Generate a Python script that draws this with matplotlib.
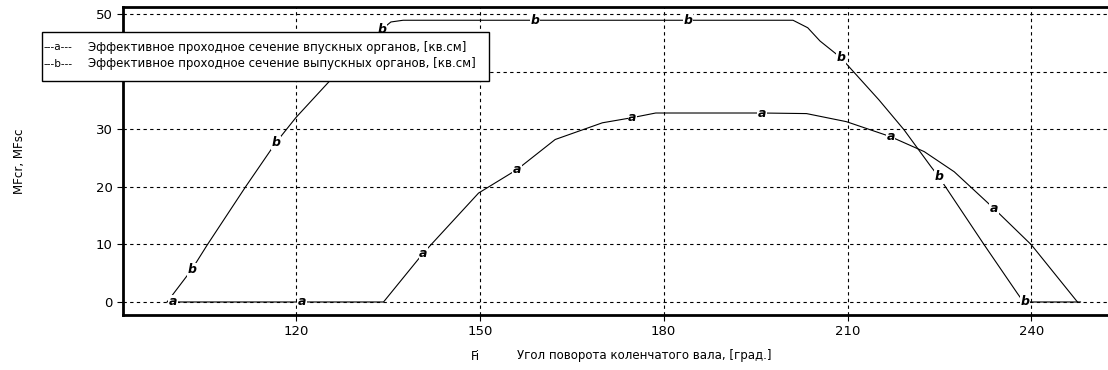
import matplotlib
matplotlib.use("Agg")
import matplotlib.pyplot as plt
from matplotlib.patches import Rectangle

# Curve a: intake effective flow area
a_x = [100.0, 121.0, 134.3, 140.8, 149.8, 156.1, 162.3, 170.0, 174.9, 178.7, 196.0, 203.3,
       209.8, 217.0, 222.5, 227.4, 233.9, 240.0, 247.5]
a_y = [0.0, 0.0, 0.0, 8.5, 18.9, 23.0, 28.2, 31.1, 32.0, 32.8, 32.8, 32.7,
       31.3, 28.7, 26.1, 22.6, 16.2, 9.9, 0.0]
# Curve b: exhaust effective flow area
b_x = [99.0, 103.0, 105.6, 111.8, 116.7, 120.0, 125.2, 130.0, 134.0, 135.5, 137.5, 159.0,
       184.0, 201.1, 203.5, 205.5, 208.9, 215.1, 219.2, 223.6, 224.9, 232.3, 237.7, 238.7, 248.0]
b_y = [0.0, 5.6, 10.0, 20.0, 27.6, 32.0, 38.0, 43.5, 47.3, 48.6, 48.9, 48.9,
       48.9, 48.9, 47.6, 45.3, 42.4, 35.1, 29.9, 23.5, 21.7, 9.9, 1.5, 0.0, 0.0]

# marker letters positions
a_mx = [100.0, 121.0, 140.8, 156.1, 174.9, 196.0, 217.0, 233.9]
a_my = [0.0, 0.0, 8.5, 23.0, 32.0, 32.8, 28.7, 16.2]
b_mx = [103.0, 116.7, 134.0, 159.0, 184.0, 208.9, 224.9, 238.9]
b_my = [5.6, 27.6, 47.3, 48.9, 48.9, 42.4, 21.7, 0.0]

x_ticks = [120, 150, 180, 210, 240]
y_ticks = [0, 10, 20, 30, 40, 50]
legend_a = "Эффективное проходное сечение впускных органов, [кв.см]"
legend_b = "Эффективное проходное сечение выпускных органов, [кв.см]"

plt.rcParams['font.family'] = ['DejaVu Sans']
fig = plt.figure(figsize=(11.08, 3.70), dpi=100)
W, H = 1108, 370
ax = fig.add_axes([123 / W, 1 - 315 / H, 990 / W, 308 / H])
ax.set_xlim(91.8, 253.3)
ax.set_ylim(-2.26, 51.2)

ax.plot(a_x, a_y, color='black', lw=0.8, zorder=3)
ax.plot(b_x, b_y, color='black', lw=0.8, zorder=3)
for x, y in zip(a_mx, a_my):
    ax.text(x, y, 'a', ha='center', va='center', fontsize=9, fontweight='bold',
            style='italic', zorder=4,
            bbox=dict(boxstyle='square,pad=0.05', fc='white', ec='none'))
for x, y in zip(b_mx, b_my):
    ax.text(x, y, 'b', ha='center', va='center', fontsize=9, fontweight='bold',
            style='italic', zorder=4,
            bbox=dict(boxstyle='square,pad=0.05', fc='white', ec='none'))

ax.set_xticks(x_ticks)
ax.set_yticks(y_ticks)
ax.grid(True, color='black', linestyle=(0, (3, 3)), lw=0.8)
ax.tick_params(axis='both', labelsize=9.5, length=4, width=0.8, direction='out')
for side in ['left', 'bottom', 'top']:
    ax.spines[side].set_linewidth(2)
ax.spines['right'].set_visible(False)
# the "40" label is covered by the legend box in the reference
for lbl, val in zip(ax.get_yticklabels(), y_ticks):
    if val == 40:
        lbl.set_visible(False)

fig.text(20 / W, 1 - 161 / H, 'MFcr, MFsc', rotation=90, ha='center', va='center', fontsize=8.6)
fig.text(475 / W, 1 - 356 / H, 'Fi', ha='center', va='center', fontsize=8.5)
fig.text(517 / W, 1 - 356 / H, 'Угол поворота коленчатого вала, [град.]', ha='left', va='center', fontsize=8.5)

# legend box
fig.patches.append(Rectangle((42 / W, 1 - 81 / H), 447 / W, 49 / H, transform=fig.transFigure,
                             fc='white', ec='black', lw=1, zorder=10))
fig.text(44 / W, 1 - 47 / H, '---a---', fontsize=7.5, va='center', ha='left', zorder=11)
fig.text(44 / W, 1 - 64 / H, '---b---', fontsize=7.5, va='center', ha='left', zorder=11)
fig.text(88 / W, 1 - 47 / H, legend_a, fontsize=8.5, va='center', ha='left', zorder=11)
fig.text(88 / W, 1 - 64 / H, legend_b, fontsize=8.5, va='center', ha='left', zorder=11)

fig.savefig('out.png', dpi=100)
